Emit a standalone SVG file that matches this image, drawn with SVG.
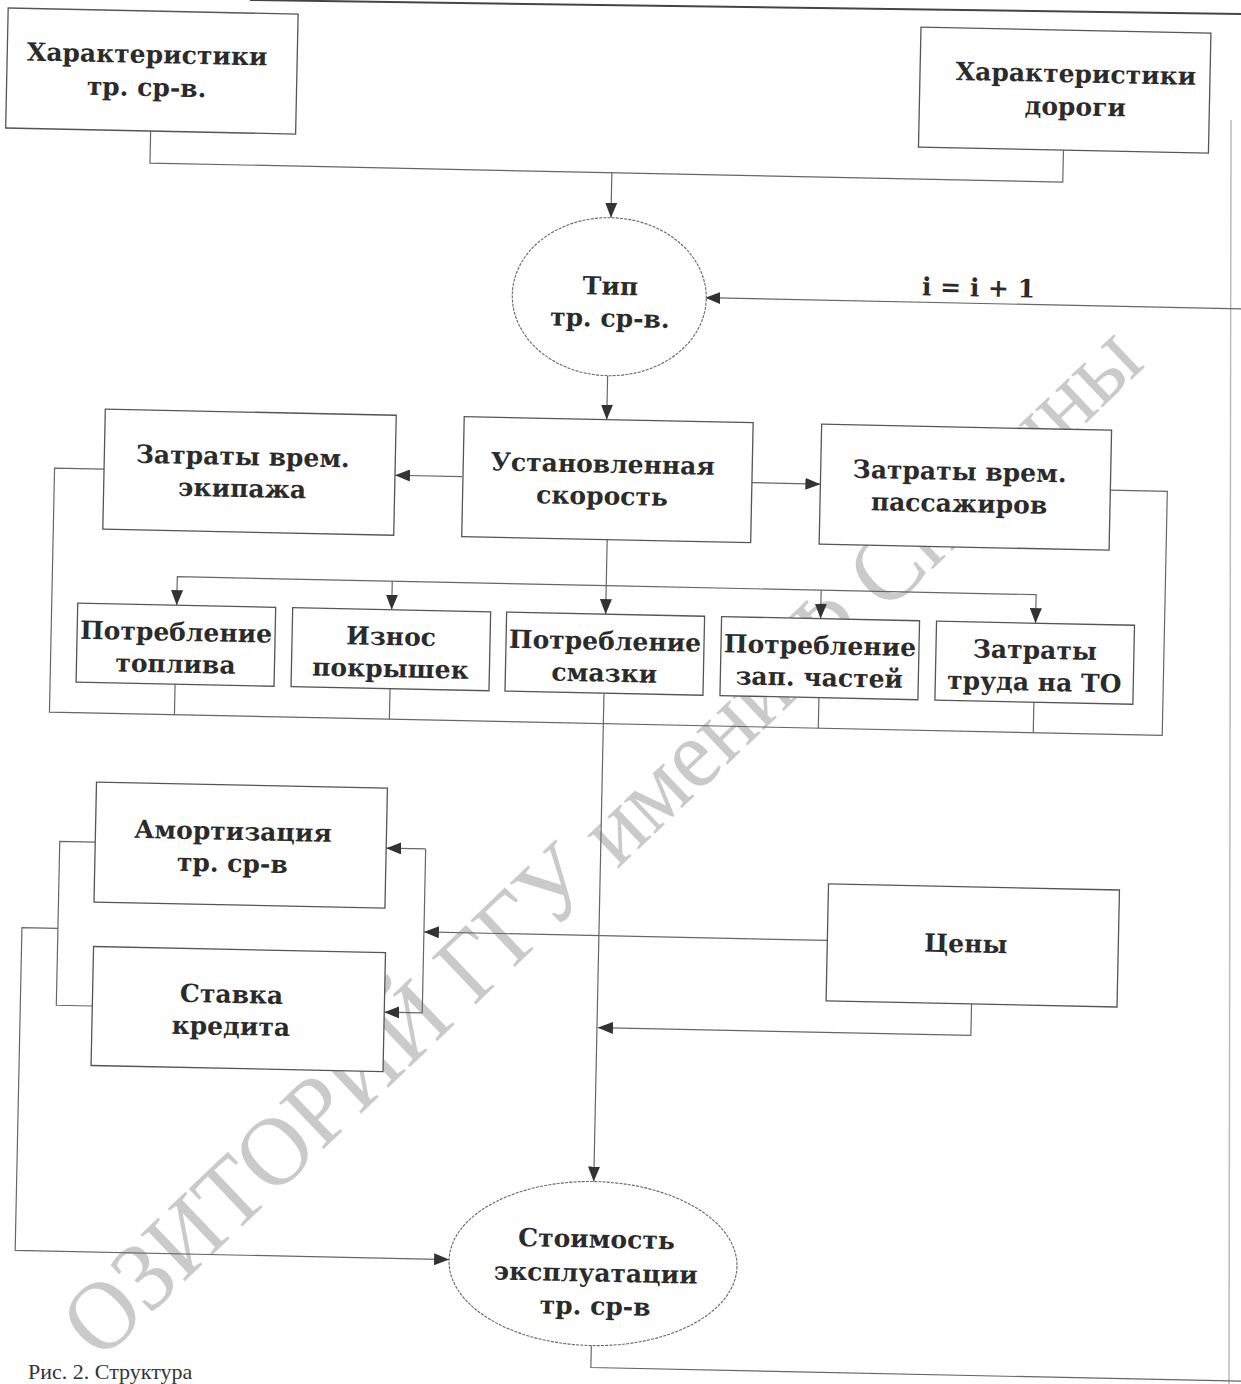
<svg xmlns="http://www.w3.org/2000/svg" width="1241" height="1384" viewBox="0 0 1241 1384">
<defs>
<style>
.box{fill:#fff;stroke:#555;stroke-width:1.3}
.ell{fill:#fff;stroke:#666;stroke-width:1.1;stroke-dasharray:3 1.2}
.ln{fill:none;stroke:#666;stroke-width:1.2}
.t{font-family:"DejaVu Serif","Liberation Serif",serif;font-size:25px;font-weight:bold;fill:#2b2b2b;text-anchor:middle}
.wm{font-family:"Liberation Serif","DejaVu Serif",serif;font-size:98px;fill:#cacaca}
.cap{font-family:"Liberation Serif","DejaVu Serif",serif;font-size:22px;fill:#333}
</style>
<marker id="ah" markerWidth="15" markerHeight="12" refX="15" refY="6" orient="auto" markerUnits="userSpaceOnUse">
<path d="M0,0 L15,6 L0,12 z" fill="#333"/>
</marker>
</defs>
<rect width="1241" height="1384" fill="#fff"/>
<g id="watermark">
<text class="wm" transform="translate(100,1362) rotate(-43.6)" textLength="1445" lengthAdjust="spacingAndGlyphs">ОЗИТОРИЙ ГГУ имени Ф Скорины</text>
</g>
<g id="page-edges">
<line x1="250" y1="0" x2="1241" y2="14" stroke="#444" stroke-width="2"/>
<line x1="1231" y1="120" x2="1229" y2="1384" stroke="#bbb" stroke-width="1.5"/>
</g>
<g transform="rotate(1.2 620 692)">
<g id="connectors" class="ln">
<path d="M139,141 V173 H1052 V141"/>
<path d="M601,173 V218" marker-end="url(#ah)"/>
<path d="M1262,296 H697" marker-end="url(#ah)"/>
<path d="M601,376 V420" marker-end="url(#ah)"/>
<path d="M457.5,480 H390.5" marker-end="url(#ah)"/>
<path d="M747.5,480 H816" marker-end="url(#ah)"/>
<path d="M604,540 V614.5" marker-end="url(#ah)"/>
<path d="M604,586 H175 V614.5" marker-end="url(#ah)"/>
<path d="M604,586 H1034 V614.5" marker-end="url(#ah)"/>
<path d="M390,586 V614.5" marker-end="url(#ah)"/>
<path d="M819,586 V614.5" marker-end="url(#ah)"/>
<path d="M99.5,480 H50 V724 H1163 V480 H1106"/>
<path d="M175,693.5 V724 M390,693.5 V724 M819,693.5 V724 M1034,693.5 V724"/>
<path d="M604,693.5 V1182" marker-end="url(#ah)"/>
<path d="M832.5,936 H429" marker-end="url(#ah)"/>
<path d="M429,853 V1017"/>
<path d="M429,853 H389.5" marker-end="url(#ah)"/>
<path d="M429,1017 H391" marker-end="url(#ah)"/>
<path d="M978,996.5 V1028 H605" marker-end="url(#ah)"/>
<path d="M98.5,853 H63 V1017 H99"/>
<path d="M63,940 H27 V1263 H461" marker-end="url(#ah)"/>
<path d="M605,1346 V1368 H1262"/>
</g>
<g id="label-loop">
<text class="t" x="970" y="289">i = i + 1</text>
</g>
<g id="n-char-vehicle">
<rect class="box" x="-6" y="21" width="290" height="120"/>
<text class="t" x="134" y="73">Характеристики</text>
<text class="t" x="134" y="106">тр. ср-в.</text>
</g>
<g id="n-char-road">
<rect class="box" x="907" y="21" width="290" height="120"/>
<text class="t" x="1063" y="73">Характеристики</text>
<text class="t" x="1063" y="106">дороги</text>
</g>
<g id="n-type">
<ellipse class="ell" cx="601" cy="297" rx="97" ry="79"/>
<text class="t" x="602" y="295">Тип</text>
<text class="t" x="602" y="327">тр. ср-в.</text>
</g>
<g id="n-speed">
<rect class="box" x="458.5" y="420" width="289" height="120"/>
<text class="t" x="598" y="473">Установленная</text>
<text class="t" x="598" y="505">скорость</text>
</g>
<g id="n-crew">
<rect class="box" x="99.5" y="420" width="291" height="120"/>
<text class="t" x="238" y="473">Затраты врем.</text>
<text class="t" x="238" y="505">экипажа</text>
</g>
<g id="n-pass">
<rect class="box" x="816" y="420" width="290" height="120"/>
<text class="t" x="955" y="473">Затраты врем.</text>
<text class="t" x="955" y="505">пассажиров</text>
</g>
<g id="n-fuel">
<rect class="box" x="76" y="614.5" width="198" height="79"/>
<text class="t" x="175" y="650">Потребление</text>
<text class="t" x="175" y="682">топлива</text>
</g>
<g id="n-tyres">
<rect class="box" x="291" y="614.5" width="198" height="79"/>
<text class="t" x="390" y="650">Износ</text>
<text class="t" x="390" y="682">покрышек</text>
</g>
<g id="n-lube">
<rect class="box" x="505" y="614.5" width="198" height="79"/>
<text class="t" x="604" y="650">Потребление</text>
<text class="t" x="604" y="682">смазки</text>
</g>
<g id="n-parts">
<rect class="box" x="720" y="614.5" width="198" height="79"/>
<text class="t" x="819" y="650">Потребление</text>
<text class="t" x="819" y="682">зап. частей</text>
</g>
<g id="n-labour">
<rect class="box" x="935" y="614.5" width="198" height="79"/>
<text class="t" x="1034" y="650">Затраты</text>
<text class="t" x="1034" y="682">труда на ТО</text>
</g>
<g id="n-amort">
<rect class="box" x="98.5" y="793" width="291" height="120"/>
<text class="t" x="236" y="848">Амортизация</text>
<text class="t" x="236" y="880">тр. ср-в</text>
</g>
<g id="n-credit">
<rect class="box" x="99" y="957.5" width="292" height="119"/>
<text class="t" x="238" y="1011">Ставка</text>
<text class="t" x="238" y="1043">кредита</text>
</g>
<g id="n-prices">
<rect class="box" x="832.5" y="879.5" width="291" height="117"/>
<text class="t" x="971" y="945">Цены</text>
</g>
<g id="n-cost">
<ellipse class="ell" cx="605" cy="1264" rx="144" ry="82"/>
<text class="t" x="608" y="1248">Стоимость</text>
<text class="t" x="608" y="1282">эксплуатации</text>
<text class="t" x="608" y="1315">тр. ср-в</text>
</g>
</g>
<text class="cap" x="28" y="1379">Рис. 2. Структура</text>
</svg>
